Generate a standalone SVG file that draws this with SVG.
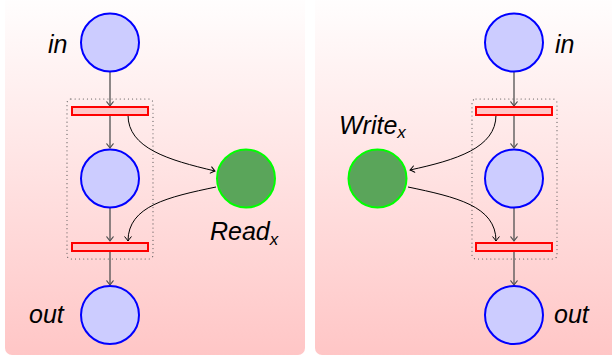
<svg xmlns="http://www.w3.org/2000/svg" width="612" height="357" viewBox="0 0 612 357">
  <defs>
    <linearGradient id="bg" x1="0" y1="0" x2="0" y2="1">
      <stop offset="0" stop-color="#ffffff"/>
      <stop offset="1" stop-color="#ffc6c6"/>
    </linearGradient>
    <marker id="toK" viewBox="-5 -4 6 8" markerWidth="6" markerHeight="8" refX="0" refY="0" orient="auto" markerUnits="userSpaceOnUse">
      <path d="M -4.2,-3.2 Q -1.2,-0.8 0,0 Q -1.2,0.8 -4.2,3.2" fill="none" stroke="#000" stroke-width="1" stroke-linecap="round"/>
    </marker>
    <marker id="toG" viewBox="-5 -4 6 8" markerWidth="6" markerHeight="8" refX="0" refY="0" orient="auto" markerUnits="userSpaceOnUse">
      <path d="M -4.2,-3.2 Q -1.2,-0.8 0,0 Q -1.2,0.8 -4.2,3.2" fill="none" stroke="#505050" stroke-width="1.1" stroke-linecap="round"/>
    </marker>
  </defs>
  <style>
    .place { fill: #ccccff; stroke: #0000ff; stroke-width: 2; }
    .res { fill: #5aa55a; stroke: #00ff00; stroke-width: 2; }
    .trans { fill: #ffc8c8; stroke: #ff0000; stroke-width: 2; }
    .group { fill: none; stroke: #555555; stroke-width: 1.1; stroke-dasharray: 0.1 4; stroke-linecap: round; }
    .flow { fill: none; stroke: #505050; stroke-width: 1.3; marker-end: url(#toG); }
    .arc { fill: none; stroke: #000000; stroke-width: 1; marker-end: url(#toK); }
    .lbl { font-family: "Liberation Sans", "DejaVu Sans", sans-serif; font-style: italic; font-size: 25px; fill: #000; }
    .sub { font-size: 17px; }
  </style>

  <!-- panels -->
  <rect x="5" y="-10" width="300" height="365" rx="7" fill="url(#bg)"/>
  <rect x="315" y="-10" width="305" height="365" rx="7" fill="url(#bg)"/>

  <!-- Read side -->
  <g id="read-group">
    <rect class="group" x="67" y="99" width="86" height="160" rx="4"/>
  </g>
  <g id="read-connectors">
    <path class="flow" d="M110,72 V106"/>
    <path class="flow" d="M110,115 V148"/>
    <path class="flow" d="M110,208 V241"/>
    <path class="flow" d="M110,251 V285"/>
    <path class="arc" d="M128,115 C128,148 168,160 215,171"/>
    <path class="arc" d="M216,187 C168,197 128,206 128,241"/>
  </g>
  <g id="read-in">
    <circle class="place" cx="110" cy="42.5" r="29"/>
    <text class="lbl" x="48" y="53">in</text>
  </g>
  <g id="read-t1">
    <rect class="trans" x="72" y="107" width="76" height="8"/>
  </g>
  <g id="read-mid">
    <circle class="place" cx="110" cy="178.5" r="29"/>
  </g>
  <g id="read-t2">
    <rect class="trans" x="72" y="243" width="76" height="8"/>
  </g>
  <g id="read-out">
    <circle class="place" cx="110" cy="315" r="29"/>
    <text class="lbl" x="29" y="323">out</text>
  </g>
  <g id="read-x">
    <circle class="res" cx="246" cy="178.5" r="29"/>
    <text class="lbl" x="210" y="240">Read<tspan class="sub" dy="4.5">x</tspan></text>
  </g>

  <!-- Write side -->
  <g id="write-group">
    <rect class="group" x="472" y="99" width="85" height="160" rx="4"/>
  </g>
  <g id="write-connectors">
    <path class="flow" d="M514,72 V106"/>
    <path class="flow" d="M514,115 V148"/>
    <path class="flow" d="M514,208 V241"/>
    <path class="flow" d="M514,251 V285"/>
    <path class="arc" d="M496,115 C496,148 456,160 410,170"/>
    <path class="arc" d="M408,187 C456,197 496,206 496,241"/>
  </g>
  <g id="write-in">
    <circle class="place" cx="514" cy="42.5" r="29"/>
    <text class="lbl" x="555" y="53">in</text>
  </g>
  <g id="write-t1">
    <rect class="trans" x="476" y="107" width="76" height="8"/>
  </g>
  <g id="write-mid">
    <circle class="place" cx="514" cy="178.5" r="29"/>
  </g>
  <g id="write-t2">
    <rect class="trans" x="476" y="243" width="76" height="8"/>
  </g>
  <g id="write-out">
    <circle class="place" cx="514" cy="315" r="29"/>
    <text class="lbl" x="554" y="323">out</text>
  </g>
  <g id="write-x">
    <circle class="res" cx="377.5" cy="178.5" r="29"/>
    <text class="lbl" x="339" y="134">Write<tspan class="sub" dy="4">x</tspan></text>
  </g>
</svg>
